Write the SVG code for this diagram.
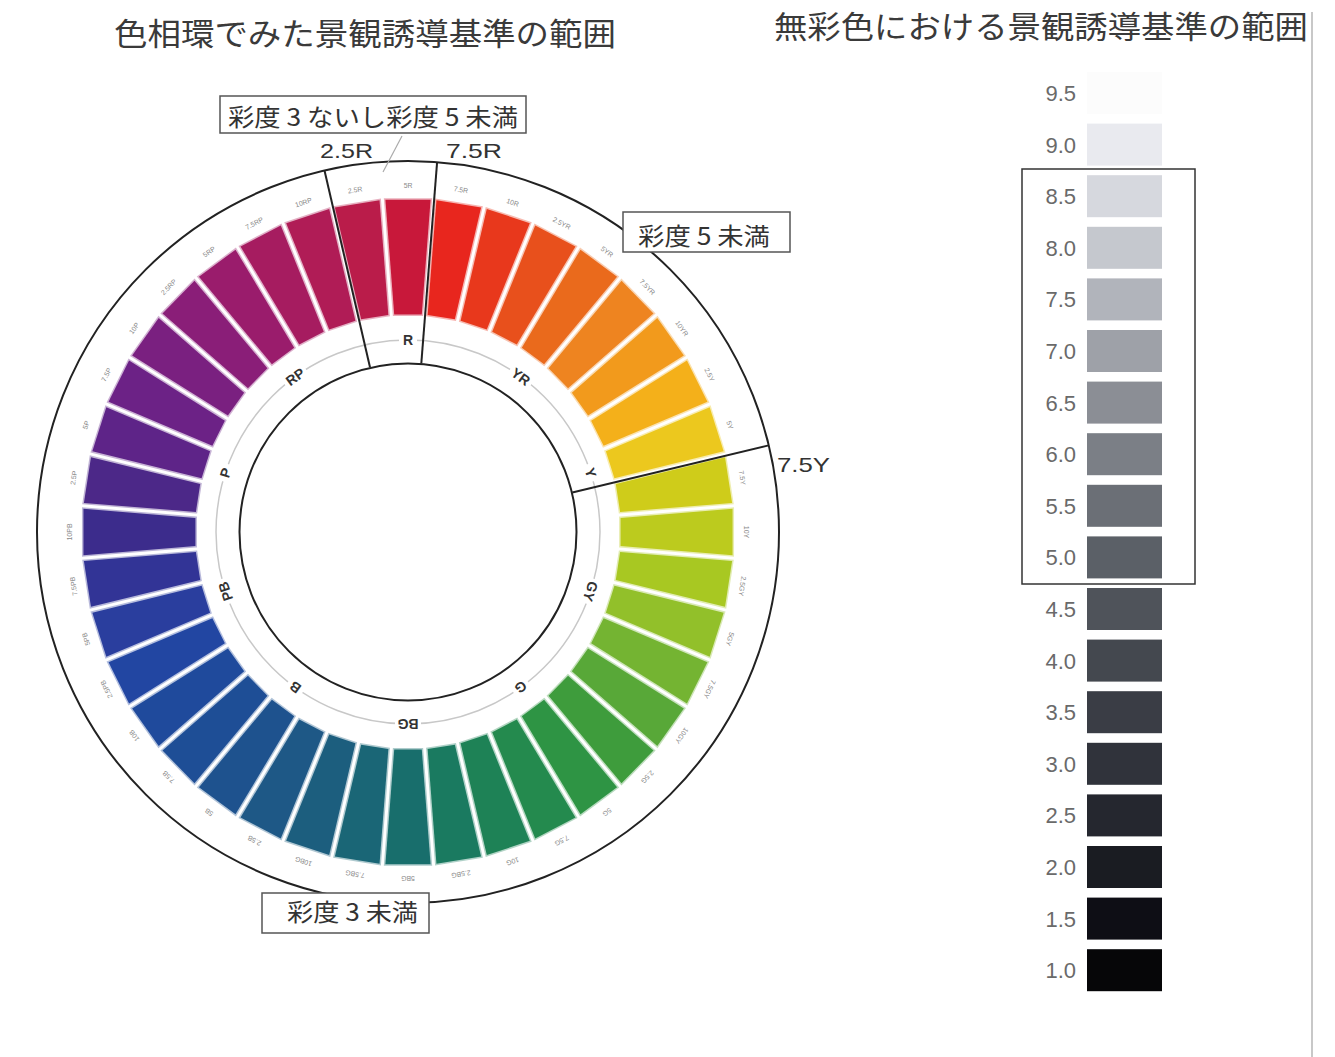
<svg xmlns="http://www.w3.org/2000/svg" width="1335" height="1057" viewBox="0 0 1335 1057">
<style>
.title{font-family:"Noto Sans CJK JP",sans-serif;font-size:31px;fill:#3a3a3a}
.note{font-family:"Noto Sans CJK JP",sans-serif;font-size:24px;fill:#333}
.tick{font-family:"Liberation Sans",sans-serif;font-size:21px;fill:#333}
.box{fill:#fff;stroke:#555;stroke-width:1.5}
.ring{fill:none;stroke:#222;stroke-width:2}
.bound{stroke:#222;stroke-width:2;fill:none}
.tiny{font-family:"Liberation Sans",sans-serif;font-size:7px;fill:#888;text-anchor:middle}
.hue{font-family:"Liberation Sans",sans-serif;font-size:14px;font-weight:bold;fill:#333;text-anchor:middle}
.val{font-family:"Liberation Sans",sans-serif;font-size:22px;fill:#6a6a6a;text-anchor:end}
.sw{stroke:none}
</style>
<defs>
<path id="seg" d="M-14.11,-217.56 L-23.14,-332.21 L23.14,-332.21 L14.11,-217.56 Z" fill="currentColor" stroke="currentColor" stroke-opacity="0.35" stroke-width="3" paint-order="stroke"/>
</defs>
<rect width="1335" height="1057" fill="#fff"/>

<g id="title-left"><text class="title" x="114" y="45" textLength="502" lengthAdjust="spacingAndGlyphs">色相環でみた景観誘導基準の範囲</text></g>
<g id="title-right"><text class="title" x="774" y="38" textLength="534" lengthAdjust="spacingAndGlyphs">無彩色における景観誘導基準の範囲</text></g>

<g id="wheel">
<circle cx="408" cy="532" r="371" fill="#fff" class="ring"/>
<g id="hue-segments" transform="translate(408 532) scale(0.977 1)">
<use href="#seg" color="#c8183a"/>
<use href="#seg" color="#e8261e" transform="rotate(9)"/>
<use href="#seg" color="#e8381c" transform="rotate(18)"/>
<use href="#seg" color="#e8501c" transform="rotate(27)"/>
<use href="#seg" color="#ea6a1c" transform="rotate(36)"/>
<use href="#seg" color="#ee8420" transform="rotate(45)"/>
<use href="#seg" color="#f29a1c" transform="rotate(54)"/>
<use href="#seg" color="#f4b01a" transform="rotate(63)"/>
<use href="#seg" color="#ecc81e" transform="rotate(72)"/>
<use href="#seg" color="#cfcc1a" transform="rotate(81)"/>
<use href="#seg" color="#bccb1e" transform="rotate(90)"/>
<use href="#seg" color="#a8c822" transform="rotate(99)"/>
<use href="#seg" color="#92c02a" transform="rotate(108)"/>
<use href="#seg" color="#74b432" transform="rotate(117)"/>
<use href="#seg" color="#58a838" transform="rotate(126)"/>
<use href="#seg" color="#3e9c3c" transform="rotate(135)"/>
<use href="#seg" color="#2e9444" transform="rotate(144)"/>
<use href="#seg" color="#248a4e" transform="rotate(153)"/>
<use href="#seg" color="#1e8256" transform="rotate(162)"/>
<use href="#seg" color="#1a7a60" transform="rotate(171)"/>
<use href="#seg" color="#186e6c" transform="rotate(180)"/>
<use href="#seg" color="#1a6676" transform="rotate(189)"/>
<use href="#seg" color="#1c5e7e" transform="rotate(198)"/>
<use href="#seg" color="#1e5886" transform="rotate(207)"/>
<use href="#seg" color="#1e528e" transform="rotate(216)"/>
<use href="#seg" color="#1e4e96" transform="rotate(225)"/>
<use href="#seg" color="#1f4a9c" transform="rotate(234)"/>
<use href="#seg" color="#2246a2" transform="rotate(243)"/>
<use href="#seg" color="#2a3e9e" transform="rotate(252)"/>
<use href="#seg" color="#323496" transform="rotate(261)"/>
<use href="#seg" color="#3c2c8c" transform="rotate(270)"/>
<use href="#seg" color="#4c2888" transform="rotate(279)"/>
<use href="#seg" color="#5e2488" transform="rotate(288)"/>
<use href="#seg" color="#6c2286" transform="rotate(297)"/>
<use href="#seg" color="#7a2080" transform="rotate(306)"/>
<use href="#seg" color="#8a1e78" transform="rotate(315)"/>
<use href="#seg" color="#9a1c6c" transform="rotate(324)"/>
<use href="#seg" color="#a61c60" transform="rotate(333)"/>
<use href="#seg" color="#b01c56" transform="rotate(342)"/>
<use href="#seg" color="#ba1c4a" transform="rotate(351)"/>
<g class="tiny">
<text y="-344">5R</text>
<text y="-344" transform="rotate(9)">7.5R</text>
<text y="-344" transform="rotate(18)">10R</text>
<text y="-344" transform="rotate(27)">2.5YR</text>
<text y="-344" transform="rotate(36)">5YR</text>
<text y="-344" transform="rotate(45)">7.5YR</text>
<text y="-344" transform="rotate(54)">10YR</text>
<text y="-344" transform="rotate(63)">2.5Y</text>
<text y="-344" transform="rotate(72)">5Y</text>
<text y="-344" transform="rotate(81)">7.5Y</text>
<text y="-344" transform="rotate(90)">10Y</text>
<text y="-344" transform="rotate(99)">2.5GY</text>
<text y="-344" transform="rotate(108)">5GY</text>
<text y="-344" transform="rotate(117)">7.5GY</text>
<text y="-344" transform="rotate(126)">10GY</text>
<text y="-344" transform="rotate(135)">2.5G</text>
<text y="-344" transform="rotate(144)">5G</text>
<text y="-344" transform="rotate(153)">7.5G</text>
<text y="-344" transform="rotate(162)">10G</text>
<text y="-344" transform="rotate(171)">2.5BG</text>
<text y="-344" transform="rotate(180)">5BG</text>
<text y="-344" transform="rotate(189)">7.5BG</text>
<text y="-344" transform="rotate(198)">10BG</text>
<text y="-344" transform="rotate(207)">2.5B</text>
<text y="-344" transform="rotate(216)">5B</text>
<text y="-344" transform="rotate(225)">7.5B</text>
<text y="-344" transform="rotate(234)">10B</text>
<text y="-344" transform="rotate(243)">2.5PB</text>
<text y="-344" transform="rotate(252)">5PB</text>
<text y="-344" transform="rotate(261)">7.5PB</text>
<text y="-344" transform="rotate(270)">10PB</text>
<text y="-344" transform="rotate(279)">2.5P</text>
<text y="-344" transform="rotate(288)">5P</text>
<text y="-344" transform="rotate(297)">7.5P</text>
<text y="-344" transform="rotate(306)">10P</text>
<text y="-344" transform="rotate(315)">2.5RP</text>
<text y="-344" transform="rotate(324)">5RP</text>
<text y="-344" transform="rotate(333)">7.5RP</text>
<text y="-344" transform="rotate(342)">10RP</text>
<text y="-344" transform="rotate(351)">2.5R</text>
</g>
</g>
<circle cx="408" cy="532" r="192" fill="none" stroke="#c8c8c8" stroke-width="1.5"/>
<g id="hue-letters" transform="translate(408 532)">
<g><rect x="-9" y="-200" width="18" height="16" fill="#fff"/><text class="hue" y="-187">R</text></g>
<g transform="rotate(36)"><rect x="-13" y="-200" width="26" height="16" fill="#fff"/><text class="hue" y="-187">YR</text></g>
<g transform="rotate(72)"><rect x="-9" y="-200" width="18" height="16" fill="#fff"/><text class="hue" y="-187">Y</text></g>
<g transform="rotate(108)"><rect x="-13" y="-200" width="26" height="16" fill="#fff"/><text class="hue" y="-187">GY</text></g>
<g transform="rotate(144)"><rect x="-9" y="-200" width="18" height="16" fill="#fff"/><text class="hue" y="-187">G</text></g>
<g transform="rotate(180)"><rect x="-13" y="-200" width="26" height="16" fill="#fff"/><text class="hue" y="-187">BG</text></g>
<g transform="rotate(216)"><rect x="-9" y="-200" width="18" height="16" fill="#fff"/><text class="hue" y="-187">B</text></g>
<g transform="rotate(252)"><rect x="-13" y="-200" width="26" height="16" fill="#fff"/><text class="hue" y="-187">PB</text></g>
<g transform="rotate(288)"><rect x="-9" y="-200" width="18" height="16" fill="#fff"/><text class="hue" y="-187">P</text></g>
<g transform="rotate(324)"><rect x="-13" y="-200" width="26" height="16" fill="#fff"/><text class="hue" y="-187">RP</text></g>
</g>
<circle cx="408" cy="532" r="168.5" fill="#fff" class="ring"/>
</g>

<g id="connectors">
<line class="bound" x1="324.5" y1="170.5" x2="370" y2="367.3"/>
<line class="bound" x1="437.1" y1="162.1" x2="421.3" y2="363.5"/>
<line class="bound" x1="768.7" y1="445.4" x2="572.3" y2="492.5"/>
<line x1="402" y1="136" x2="383" y2="172" stroke="#aaa" stroke-width="1.2"/>
</g>

<g id="label-2-5R"><text class="tick" x="320" y="158" textLength="53" lengthAdjust="spacingAndGlyphs">2.5R</text></g>
<g id="label-7-5R"><text class="tick" x="446" y="158" textLength="56" lengthAdjust="spacingAndGlyphs">7.5R</text></g>
<g id="label-7-5Y"><text class="tick" x="777" y="472" textLength="53" lengthAdjust="spacingAndGlyphs">7.5Y</text></g>

<g id="note-3to5">
<rect class="box" x="220" y="96" width="306" height="37"/>
<text class="note" x="228" y="126" textLength="290" lengthAdjust="spacingAndGlyphs">彩度 3 ないし彩度 5 未満</text>
</g>
<g id="note-under5">
<rect class="box" x="623" y="212" width="167" height="40"/>
<text class="note" x="638" y="245" textLength="132" lengthAdjust="spacingAndGlyphs">彩度 5 未満</text>
</g>
<g id="note-under3">
<rect class="box" x="262" y="893" width="167" height="40"/>
<text class="note" x="287" y="921" textLength="131" lengthAdjust="spacingAndGlyphs">彩度 3 未満</text>
</g>

<g id="achromatic-scale">
<rect class="sw" x="1087" y="72" width="75" height="42" fill="#fcfcfc" stroke="#b8b8b8" stroke-width="1.2"/>
<rect class="sw" x="1087" y="123.6" width="75" height="42" fill="#e9eaef" stroke="#cfd0d4" stroke-width="1.2"/>
<rect class="sw" x="1087" y="175.2" width="75" height="42" fill="#d6d8de"/>
<rect class="sw" x="1087" y="226.8" width="75" height="42" fill="#c5c8ce"/>
<rect class="sw" x="1087" y="278.4" width="75" height="42" fill="#b1b4bb"/>
<rect class="sw" x="1087" y="330" width="75" height="42" fill="#9ea1a8"/>
<rect class="sw" x="1087" y="381.6" width="75" height="42" fill="#8b8e95"/>
<rect class="sw" x="1087" y="433.2" width="75" height="42" fill="#7b7f86"/>
<rect class="sw" x="1087" y="484.8" width="75" height="42" fill="#6b6f76"/>
<rect class="sw" x="1087" y="536.4" width="75" height="42" fill="#5b6067"/>
<rect class="sw" x="1087" y="588" width="75" height="42" fill="#4f535a"/>
<rect class="sw" x="1087" y="639.6" width="75" height="42" fill="#44484f"/>
<rect class="sw" x="1087" y="691.2" width="75" height="42" fill="#3a3d45"/>
<rect class="sw" x="1087" y="742.8" width="75" height="42" fill="#30333b"/>
<rect class="sw" x="1087" y="794.4" width="75" height="42" fill="#25272f"/>
<rect class="sw" x="1087" y="846" width="75" height="42" fill="#1a1c22"/>
<rect class="sw" x="1087" y="897.6" width="75" height="42" fill="#0e0e15"/>
<rect class="sw" x="1087" y="949.2" width="75" height="42" fill="#060608"/>
<text class="val" x="1076" y="101">9.5</text>
<text class="val" x="1076" y="152.6">9.0</text>
<text class="val" x="1076" y="204.2">8.5</text>
<text class="val" x="1076" y="255.8">8.0</text>
<text class="val" x="1076" y="307.4">7.5</text>
<text class="val" x="1076" y="359">7.0</text>
<text class="val" x="1076" y="410.6">6.5</text>
<text class="val" x="1076" y="462.2">6.0</text>
<text class="val" x="1076" y="513.8">5.5</text>
<text class="val" x="1076" y="565.4">5.0</text>
<text class="val" x="1076" y="617">4.5</text>
<text class="val" x="1076" y="668.6">4.0</text>
<text class="val" x="1076" y="720.2">3.5</text>
<text class="val" x="1076" y="771.8">3.0</text>
<text class="val" x="1076" y="823.4">2.5</text>
<text class="val" x="1076" y="875">2.0</text>
<text class="val" x="1076" y="926.6">1.5</text>
<text class="val" x="1076" y="978.2">1.0</text>
</g>
<g id="range-box"><rect x="1022" y="169" width="173" height="415" fill="none" stroke="#333" stroke-width="1.5"/></g>
<line x1="1312" y1="12" x2="1312" y2="1057" stroke="#c8c8c8" stroke-width="2"/>
</svg>
